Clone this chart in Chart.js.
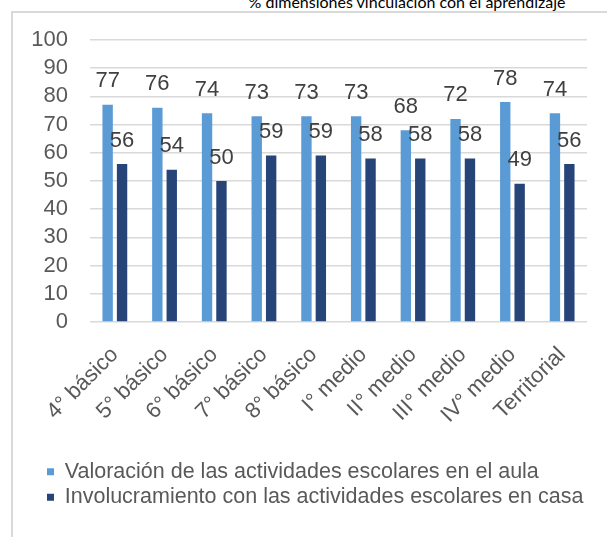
<!DOCTYPE html>
<html>
<head>
<meta charset="utf-8">
<script src="https://cdn.jsdelivr.net/npm/chart.js@4.4.1/dist/chart.umd.min.js"></script>
<style>
  html, body { margin: 0; padding: 0; background: #fff; }
  body { width: 607px; height: 537px; position: relative; overflow: hidden; }
  #frame { position: absolute; left: 11px; top: 11px; width: 640px; height: 600px;
    border-left: 2px solid #d9d9d9; border-top: 2px solid #d9d9d9; }
  #title { position: absolute; left: 0; width: 814px; top: -8px; line-height: 20px;
    text-align: center; font-size: 16px; font-family: Lato, sans-serif; color: #000; white-space: nowrap; }
  #wrap { position: absolute; left: 0; top: 0; width: 607px; height: 537px; }
</style>
</head>
<body>
<div id="frame"></div>
<div id="title">% dimensiones vinculación con el aprendizaje</div>
<div id="wrap"><canvas id="chart" width="607" height="537"></canvas></div>
<script>
var categories = ['4° básico', '5° básico', '6° básico', '7° básico', '8° básico',
  'I° medio', 'II° medio', 'III° medio', 'IV° medio', 'Territorial']
var seriesNames = ['Valoración de las actividades escolares en el aula',
  'Involucramiento con las actividades escolares en casa']
var valoracion = [77, 76, 74, 73, 73, 73, 68, 72, 78, 74]
var involucramiento = [56, 54, 50, 59, 59, 58, 58, 58, 49, 56]
var yTicks = [0, 10, 20, 30, 40, 50, 60, 70, 80, 90, 100]

var font = '"Liberation Sans", Arial, sans-serif'

// value labels over each bar, drawn from the bar elements
var valueLabels = {
  id: 'valueLabels',
  afterLayout: function(chart) {
    // legend rows sit further right than the y tick labels
    chart.legend.left += 15
    chart.legend.right += 15
  },
  afterDatasetsDraw: function(chart) {
    var ctx = chart.ctx
    ctx.save()
    ctx.font = '22px ' + font
    ctx.fillStyle = '#404040'
    ctx.textAlign = 'center'
    ctx.textBaseline = 'alphabetic'
    chart.data.datasets.forEach(function(ds, i) {
      chart.getDatasetMeta(i).data.forEach(function(bar, j) {
        ctx.fillText(Math.round(ds.data[j]), bar.x, bar.y - 17.5)
      })
    })
    ctx.restore()
  },
}

new Chart(document.getElementById('chart').getContext('2d'), {
  type: 'bar',
  data: {
    labels: categories,
    datasets: [
      { label: seriesNames[0], data: valoracion, backgroundColor: '#5B9BD5' },
      { label: seriesNames[1], data: involucramiento, backgroundColor: '#264478' },
    ],
  },
  options: {
    responsive: false,
    animation: false,
    categoryPercentage: 0.58,
    barPercentage: 0.72,
    layout: { padding: { left: 28, right: 20, top: 40, bottom: 19 } },
    scales: {
      x: {
        grid: { display: false },
        border: { display: false },
        ticks: {
          autoSkip: false, minRotation: 45, maxRotation: 45, padding: 12,
          color: '#595959', font: { family: font, size: 22 },
        },
        afterFit: function(scale) { scale.height = 135 },
      },
      y: {
        min: 0, max: 100,
        afterBuildTicks: function(scale) {
          scale.ticks = yTicks.map(function(v) { return { value: v } })
        },
        grid: { color: '#d9d9d9', lineWidth: 1.5, drawTicks: false },
        border: { display: false },
        ticks: { autoSkip: false, padding: 22, color: '#595959', font: { family: font, size: 22 } },
        afterFit: function(scale) { scale.width = 62 },
      },
    },
    plugins: {
      tooltip: { enabled: false },
      legend: {
        position: 'bottom',
        align: 'start',
        labels: {
          boxWidth: 7, boxHeight: 7, padding: 4,
          color: '#595959', font: { family: font, size: 21.5 },
        },
      },
    },
  },
  plugins: [valueLabels],
})
</script>
</body>
</html>
